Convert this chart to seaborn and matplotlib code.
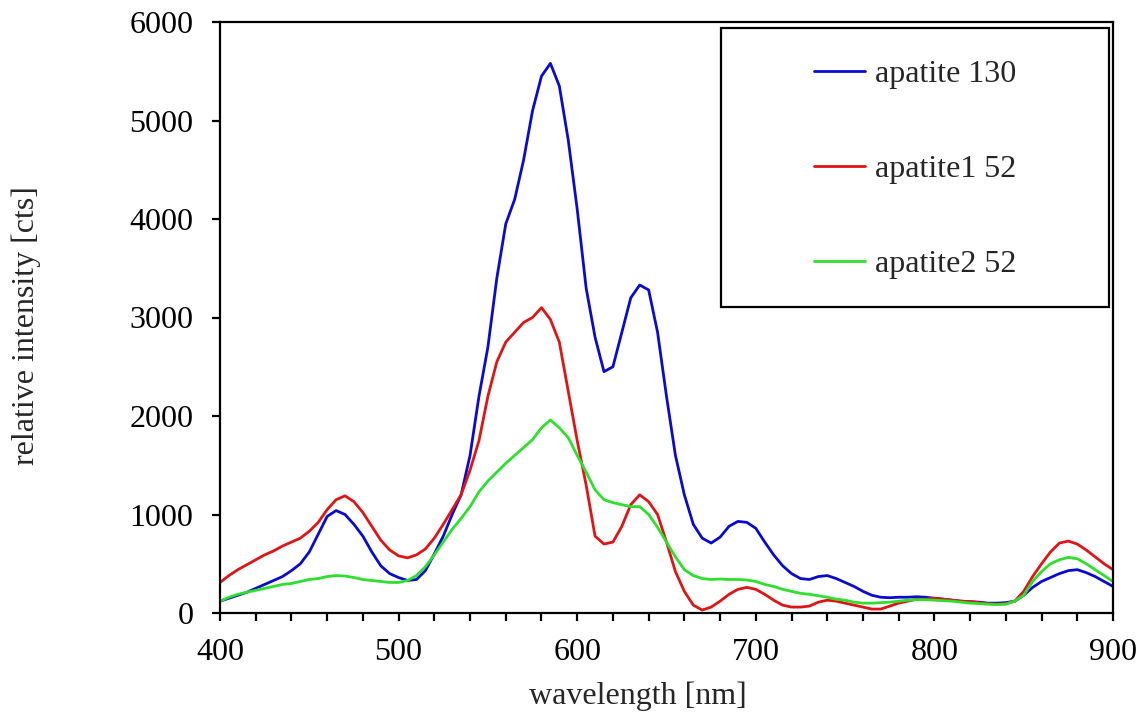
import numpy as np
import pandas as pd
import matplotlib
matplotlib.use("Agg")
import matplotlib.pyplot as plt
from matplotlib.patches import Rectangle
from matplotlib.ticker import MultipleLocator
import seaborn as sns

# Luminescence spectra, sampled every 5 nm from 400 to 900 nm
wavelength = list(range(400, 901, 5))

apatite_130 = [
    120, 150, 180, 210, 250, 290, 330, 370, 430, 500,
    620, 800, 980, 1040, 1000, 900, 780, 620, 480, 400,
    360, 330, 340, 430, 600, 780, 1000, 1200, 1600, 2200,
    2700, 3400, 3950, 4200, 4600, 5100, 5450, 5580, 5350, 4800,
    4100, 3300, 2800, 2450, 2500, 2850, 3200, 3330, 3280, 2850,
    2200, 1600, 1200, 900, 760, 710, 770, 880, 930, 920,
    860, 720, 590, 480, 400, 350, 340, 370, 380, 350,
    310, 270, 220, 180, 160, 155, 160, 160, 165, 160,
    150, 140, 130, 120, 115, 110, 100, 100, 105, 120,
    180, 260, 320, 360, 400, 430, 440, 410, 370, 320,
    270,
]

apatite1_52 = [
    310, 380, 440, 490, 540, 590, 630, 680, 720, 760,
    830, 920, 1050, 1150, 1190, 1130, 1020, 880, 740, 640,
    580, 560, 590, 650, 760, 900, 1050, 1200, 1450, 1750,
    2200, 2550, 2750, 2850, 2950, 3000, 3100, 2980, 2750, 2250,
    1750, 1300, 780, 700, 720, 880, 1100, 1200, 1130, 1000,
    720, 420, 220, 80, 30, 60, 120, 190, 240, 260,
    240, 190, 130, 80, 60, 60, 70, 110, 130, 120,
    100, 80, 60, 40, 40, 70, 100, 120, 140, 140,
    150, 140, 130, 120, 115, 105, 95, 90, 95, 120,
    220, 370, 500, 620, 710, 730, 700, 640, 570, 500,
    440,
]

apatite2_52 = [
    120, 160, 190, 210, 230, 250, 270, 290, 300, 320,
    340, 350, 370, 380, 375, 360, 340, 330, 320, 310,
    310, 330, 380, 470, 590, 720, 850, 960, 1080, 1230,
    1340, 1430, 1520, 1600, 1680, 1760, 1880, 1960, 1880, 1780,
    1600, 1430, 1250, 1150, 1120, 1100, 1080, 1080, 1000, 870,
    720, 570, 440, 380, 350, 340, 345, 340, 340, 335,
    320, 290, 270, 240, 220, 200, 190, 175, 160, 140,
    130, 110, 100, 100, 105, 110, 120, 130, 135, 135,
    130, 125, 120, 110, 100, 95, 90, 85, 90, 120,
    180, 320, 420, 500, 540, 565, 550, 500, 440, 380,
    320,
]

series_names = ["apatite 130", "apatite1 52", "apatite2 52"]
series_values = [apatite_130, apatite1_52, apatite2_52]
series_colors = ["#0a0ad0", "#e01414", "#2ee02e"]

frames = []
for name, vals in zip(series_names, series_values):
    frames.append(pd.DataFrame({"wavelength": wavelength, "intensity": vals, "sample": name}))
df = pd.concat(frames, ignore_index=True)

sns.set_style("ticks")
plt.rcParams["font.family"] = ["Liberation Serif", "DejaVu Serif"]

fig = plt.figure(figsize=(11.43, 7.21), dpi=100)
ax = fig.add_axes([220 / 1143, 1 - 613 / 721, 893 / 1143, 591 / 721])

sns.lineplot(
    data=df, x="wavelength", y="intensity", hue="sample",
    hue_order=series_names, palette=dict(zip(series_names, series_colors)),
    linewidth=2.0, ax=ax, legend=True, sort=False,
)

ax.set_xlim(400, 900)
ax.set_ylim(0, 6000)
ax.xaxis.set_major_locator(MultipleLocator(100))
ax.xaxis.set_minor_locator(MultipleLocator(20))
ax.yaxis.set_major_locator(MultipleLocator(1000))

fs = 23
for side in ["left", "bottom", "top", "right"]:
    ax.spines[side].set_visible(True)
    ax.spines[side].set_linewidth(1.6)
    ax.spines[side].set_color("black")

ax.tick_params(axis="both", which="both", direction="out", colors="black",
               width=1.6, labelsize=fs, top=False, right=False)
ax.tick_params(axis="x", which="major", length=6, pad=12)
ax.tick_params(axis="x", which="minor", length=6)
ax.tick_params(axis="y", which="major", length=6, pad=13)

ax.set_xlabel("wavelength [nm]", fontsize=fs)
ax.set_ylabel("relative intensity [cts]", fontsize=fs)
ax.xaxis.set_label_coords(0.468, -0.116)
ax.yaxis.set_label_coords(-0.200, 0.486)

# Framed legend box in the upper right corner
box_x0, box_y0 = (721 - 220) / 893, (613 - 307) / 591
box_w, box_h = (1109 - 721) / 893, (307 - 28) / 591
ax.add_patch(Rectangle((box_x0, box_y0), box_w, box_h, transform=ax.transAxes,
                       facecolor="white", edgecolor="black", linewidth=1.6, zorder=5))

handles, labels = ax.get_legend_handles_labels()
leg = ax.legend(handles, labels, loc="center",
                bbox_to_anchor=(box_x0 + box_w / 2, box_y0 + box_h / 2 - 0.003),
                frameon=False, fontsize=fs, handlelength=1.6, handletextpad=0.3,
                labelspacing=2.05)
leg.set_zorder(6)
for line in leg.get_lines():
    line.set_linewidth(2.0)

fig.savefig("out.png", dpi=100, facecolor="white")
